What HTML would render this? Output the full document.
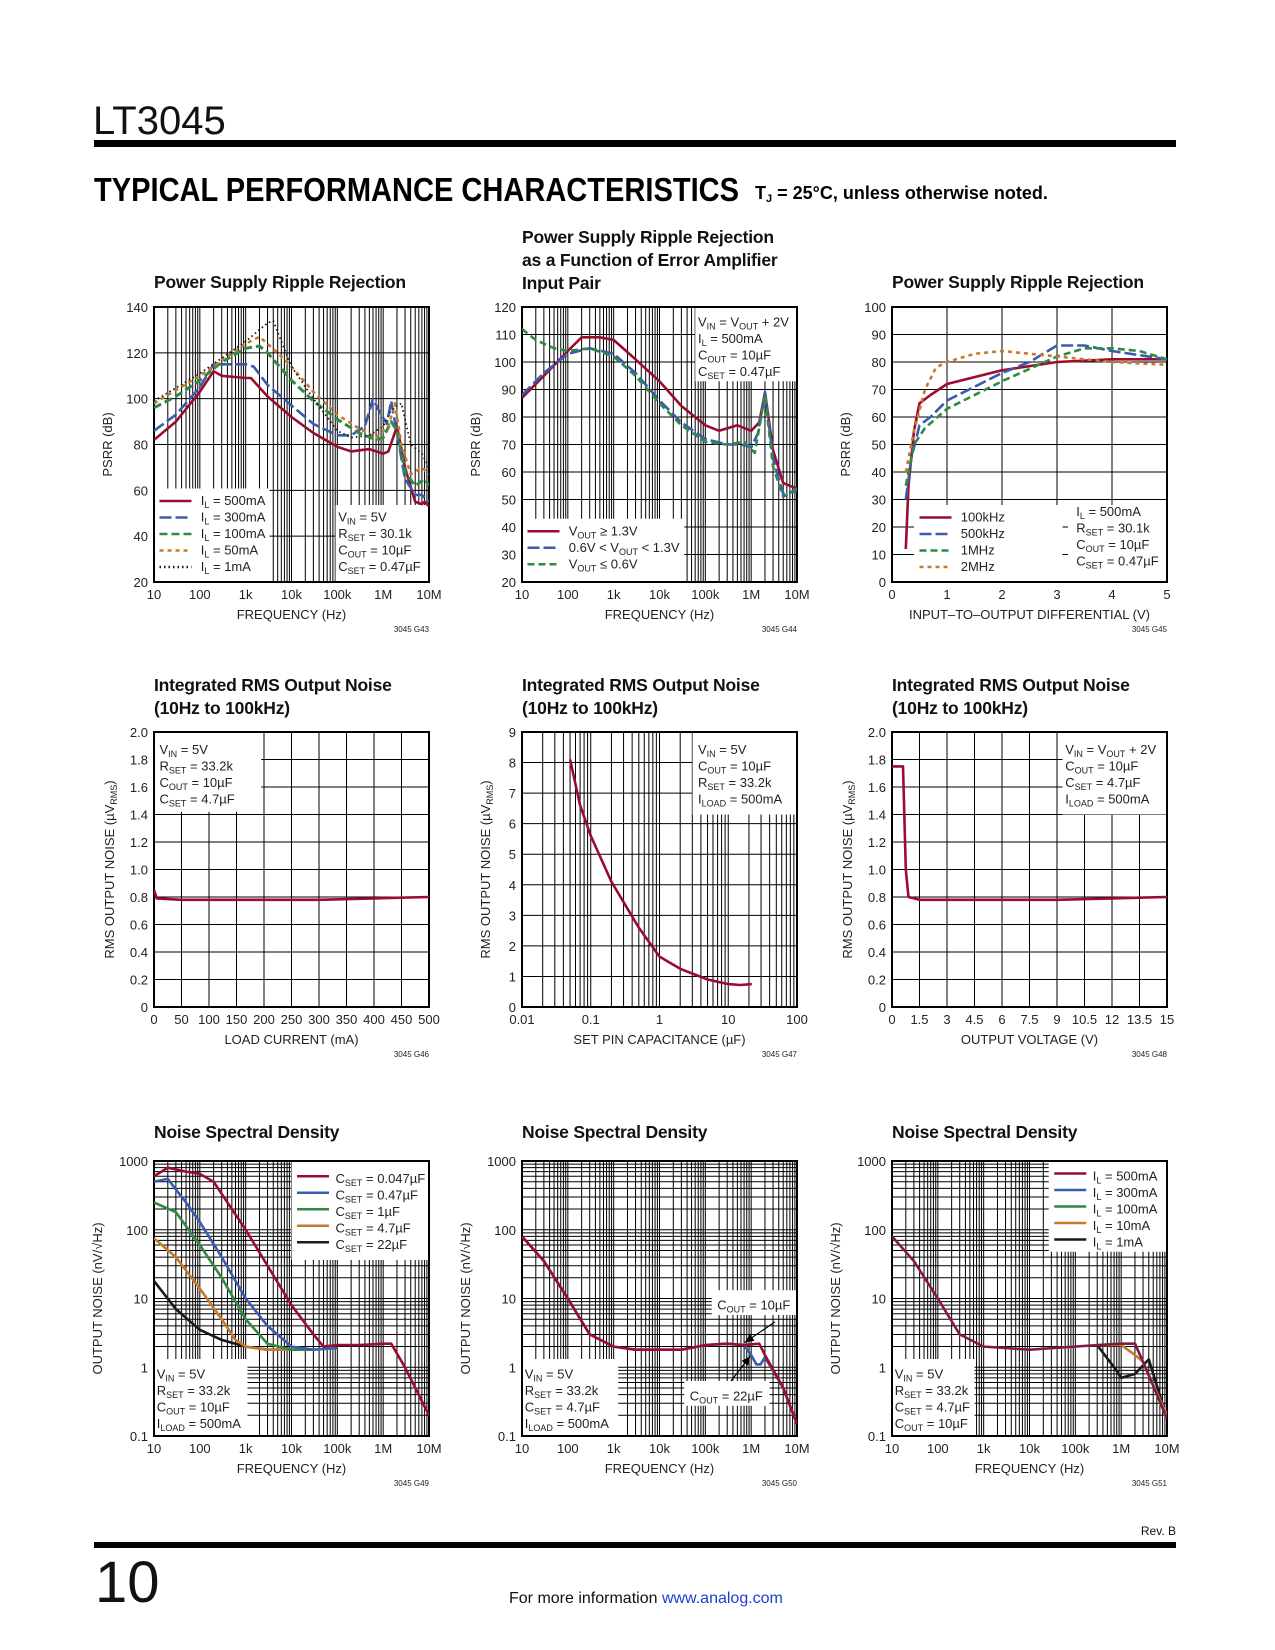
<!DOCTYPE html>
<html><head><meta charset="utf-8"><style>
html,body{margin:0;padding:0;background:#fff;}
svg{display:block;font-family:"Liberation Sans Narrow","Liberation Sans",sans-serif;}
.tk{font-size:13px;fill:#222;}
.small{font-size:8px;fill:#222;}
.ttl{font-size:17.5px;font-weight:bold;fill:#111;letter-spacing:-0.2px;}
.lg{font-size:13px;fill:#222;}
</style></head><body>
<svg id="page" width="1275" height="1650" viewBox="0 0 1275 1650" xmlns="http://www.w3.org/2000/svg">
<text x="93" y="134" font-size="40" fill="#111" style="font-weight:300">LT3045</text>
<rect x="94" y="140" width="1082" height="7" fill="#000"/>
<text x="94" y="201" font-size="33" font-weight="900" fill="#000" font-family="Liberation Sans, sans-serif" textLength="645" lengthAdjust="spacingAndGlyphs" style="font-weight:900">TYPICAL PERFORMANCE CHARACTERISTICS</text>
<text x="755" y="199" font-size="18" font-weight="bold" fill="#000">T<tspan font-size="11" dy="3">J</tspan><tspan dy="-3"> = 25°C, unless otherwise noted.</tspan></text>
<rect x="94" y="1542" width="1082" height="6" fill="#000"/>
<text x="95" y="1602" font-size="58" fill="#111" style="font-weight:300">10</text>
<text x="1176" y="1535" font-size="12" text-anchor="end" fill="#111">Rev. B</text>
<text x="509" y="1603" font-size="16" fill="#111">For more information <tspan fill="#1a3fd0">www.analog.com</tspan></text>
<g id="charts"></g>
</svg>
<script>
// ---------- data ----------
const c1Freq500=[10,30,100,200,300,1e3,1.3e3,3e3,1e4,3e4,1e5,2e5,5e5,1e6,1.3e6,2e6,3e6,5e6,7e6,8e6,1e7];
const c1Psrr500=[82,90,103,112,110,109,109,101,92,85,79,77,78,76,77,88,70,55,54,55,53];
const c1Freq300=[10,30,100,200,500,1e3,1.5e3,3e3,1e4,3e4,1e5,2e5,4e5,6e5,8e5,1.2e6,1.5e6,2e6,3e6,5e6,7e6,1e7];
const c1Psrr300=[86,93,105,115,115,115,114,106,97,89,84,84,88,100,95,89,99,85,65,58,58,55];
const c1Freq100=[10,30,100,300,1e3,2e3,3e3,1e4,3e4,1e5,3e5,7e5,1e6,1.5e6,2e6,3e6,5e6,8e6,1e7];
const c1Psrr100=[96,101,108,116,122,123,120,108,99,91,85,82,83,90,86,68,62,65,62];
const c1Freq50=[10,100,1e3,2e3,5e3,1e4,3e4,1e5,3e5,7e5,1.3e6,1.8e6,2.5e6,4e6,7e6,1e7];
const c1Psrr50=[98,110,124,127,120,114,103,93,87,83,88,98,80,67,70,67];
const c1Freq1=[10,100,1e3,3e3,4e3,6e3,1e4,3e4,1e5,2e5,5e5,1e6,1.5e6,2.5e6,4e6,7e6,1e7];
const c1Psrr1=[99,111,125,133,134,125,114,100,86,83,84,88,95,98,80,76,70];

const c2FreqA=[10,30,100,200,500,1e3,3e3,1e4,3e4,1e5,2e5,5e5,1e6,1.5e6,2e6,3e6,5e6,7e6,1e7];
const c2PsrrA=[87,95,104,109,109,108,101,93,84,77,75,77,75,78,89,68,56,55,54];
const c2FreqB=[10,30,100,300,1e3,3e3,1e4,3e4,1e5,3e5,6e5,1e6,1.4e6,2e6,3e6,5e6,1e7];
const c2PsrrB=[88,96,103,105,103,96,86,78,72,70,70,69,74,89,65,52,53];
const c2FreqC=[10,20,50,100,300,1e3,3e3,1e4,3e4,1e5,3e5,7e5,1.2e6,2e6,3e6,5e6,1e7];
const c2PsrrC=[112,108,105,104,105,102,95,85,77,71,70,71,67,88,62,51,54];

const c3Vd100k=[0.25,0.3,0.4,0.5,0.7,1,2,3,4,5];
const c3Psrr100k=[12,35,55,65,68,72,77,80,81,81];
const c3Vd500k=[0.25,0.35,0.5,0.7,1,2,2.5,3,3.5,4,5];
const c3Psrr500k=[30,45,57,60,66,76,80,86,86,84,81];
const c3Vd1M=[0.25,0.4,0.6,1,2,3,3.5,4,4.5,5];
const c3Psrr1M=[35,50,56,63,73,82,85,85,84,81];
const c3Vd2M=[0.25,0.4,0.6,0.8,1,1.5,2,3,4,5];
const c3Psrr2M=[40,55,70,78,80,83,84,82,80,79];

const c4Load=[0,5,50,300,400,500];
const c4Noise=[0.85,0.79,0.78,0.78,0.79,0.80];
const c5Cset=[0.05,0.07,0.1,0.2,0.5,1,2,5,10,15,22];
const c5Noise=[8.1,6.6,5.6,4.1,2.6,1.65,1.25,0.9,0.75,0.72,0.75];
const c6Vout=[0,0.6,0.75,0.9,1.5,9,12,15];
const c6Noise=[1.75,1.75,1.0,0.8,0.78,0.78,0.79,0.80];

const c7FreqA=[10,20,50,100,200,500,1e3,3e3,1e4,3e4,5e4,1e5,3e5,1e6,1.5e6,3e6,1e7];
const c7NoiseA=[600,800,700,650,500,200,100,30,8,3,2,2.1,2.1,2.2,2.2,1,0.2];
const c7FreqB=[10,20,50,100,300,1e3,3e3,1e4,3e4,1e5];
const c7NoiseB=[500,550,250,130,40,10,4,2,1.8,1.9];
const c7FreqC=[10,30,100,300,1e3,3e3,1e4,3e4];
const c7NoiseC=[250,180,60,20,5,2.2,1.8,1.8];
const c7FreqD=[10,30,100,300,600,1e3,3e3,1e4];
const c7NoiseD=[75,40,14,5,2.5,2,1.8,1.8];
const c7FreqE=[10,30,100,300,1e3,3e3,1e4];
const c7NoiseE=[18,7,3.5,2.5,2,1.8,1.8];

const c8FreqA=[10,30,100,300,1e3,3e3,3e4,1e5,3e5,7e5,1.5e6,2e6,5e6,1e7];
const c8NoiseA=[80,35,10,3,2,1.8,1.8,2.1,2.2,2.1,2.2,1.5,0.5,0.15];
const c8FreqB=[10,30,100,300,1e3,3e3,3e4,1e5,3e5,7e5,1e6,1.3e6,1.6e6,2e6,5e6,1e7];
const c8NoiseB=[80,35,10,3,2,1.8,1.8,2.1,2.2,2.1,1.5,1.1,1.1,1.4,0.5,0.15];

const c9FreqBase=[10,30,100,300,1e3,1e4,1e5,3e5];
const c9NoiseBase=[80,35,10,3,2,1.8,2,2.1];
const c9FreqHi=[3e5,1e6,2e6,3e6,1e7];
const c9NoiseHi=[2.1,2.2,2.2,1.2,0.18];
const c9Freq10m=[3e5,1e6,2e6,3e6,1e7];
const c9Noise10m=[2.1,2.1,1.5,1.2,0.2];
const c9Freq1m=[3e5,7e5,1e6,2e6,4e6,1e7];
const c9Noise1m=[2.1,1.0,0.7,0.8,1.3,0.18];

const decTicks=['10','100','1k','10k','100k','1M','10M'];
const c1YTicks=[20,40,60,80,100,120,140];
const c2YTicks=[20,30,40,50,60,70,80,90,100,110,120];
const c3XTicks=[0,1,2,3,4,5];
const c3YTicks=[0,10,20,30,40,50,60,70,80,90,100];
const c4XTicks=[0,50,100,150,200,250,300,350,400,450,500];
const c2x02YTicks=['0','0.2','0.4','0.6','0.8','1.0','1.2','1.4','1.6','1.8','2.0'];
const c5XTicks=['0.01','0.1','1','10','100'];
const c5YTicks=[0,1,2,3,4,5,6,7,8,9];
const c6XTicks=['0','1.5','3','4.5','6','7.5','9','10.5','12','13.5','15'];
const nsdYTicks=['0.1','1','10','100','1000'];

// ---------- helpers ----------
const NS='http://www.w3.org/2000/svg';
const root=document.getElementById('charts');
const RED='#9a0d30',BLUE='#3b5bb0',GREEN='#2f8a45',ORANGE='#c87a2c',BLACK='#1a1a1a';
function mk(tag,attrs,parent){const e=document.createElementNS(NS,tag);for(const k in attrs)e.setAttribute(k,attrs[k]);(parent||root).appendChild(e);return e;}
function txt(x,y,html,cls,parent,anchor){const t=mk('text',{x:x,y:y,class:cls||'tk','text-anchor':anchor||'start'},parent);t.innerHTML=html;return t;}
function sub(a,b,rest){return a+'<tspan font-size="9" dy="3">'+b+'</tspan><tspan dy="-3">'+rest+'</tspan>';}
function chart(o){
  const g=mk('g',{});
  
  
  const L=o.left,T=o.top,W=275,H=275;
  const lx=o.xlog?[Math.log10(o.xmin),Math.log10(o.xmax)]:[o.xmin,o.xmax];
  const ly=o.ylog?[Math.log10(o.ymin),Math.log10(o.ymax)]:[o.ymin,o.ymax];
  const X=v=>L+((o.xlog?Math.log10(v):v)-lx[0])/(lx[1]-lx[0])*W;
  const Y=v=>T+H-((o.ylog?Math.log10(v):v)-ly[0])/(ly[1]-ly[0])*H;
  const grid=mk('g',{stroke:'#000','stroke-width':1},g);
  
  
  const vx=[],hy=[];
  if(o.xlog){for(let d=lx[0];d<lx[1];d++)for(let k=1;k<10;k++)vx.push(k*Math.pow(10,d));}
  else{for(let v=o.xmin;v<=o.xmax+1e-9;v+=o.xstep)vx.push(v);}
  if(o.ylog){for(let d=ly[0];d<ly[1];d++)for(let k=1;k<10;k++)hy.push(k*Math.pow(10,d));}
  else{for(let v=o.ymin;v<=o.ymax+1e-9;v+=o.ystep)hy.push(v);}
  vx.forEach(v=>mk('line',{x1:X(v),x2:X(v),y1:T,y2:T+H},grid));
  hy.forEach(v=>mk('line',{x1:L,x2:L+W,y1:Y(v),y2:Y(v)},grid));
  (o.boxes||[]).forEach(b=>{const r=mk('rect',{x:L+b[0]*W,y:T+b[1]*H,width:(b[2]-b[0])*W,height:(b[3]-b[1])*H,fill:'#fff'},g);
    
    });
  const fr=mk('rect',{x:L,y:T,width:W,height:H,fill:'none',stroke:'#000','stroke-width':2},g);
  
  
  const cid='clip'+o.name;
  const cp=mk('clipPath',{id:cid},g);mk('rect',{x:L,y:T,width:W,height:H},cp);
  const lines=mk('g',{'clip-path':'url(#'+cid+')'},g);
  (o.series||[]).forEach(s=>{
    let d='';s.x.forEach((v,i)=>{d+=(i?'L':'M')+X(v).toFixed(1)+','+Y(s.y[i]).toFixed(1);});
    const p=mk('path',{d:d,fill:'none',stroke:s.c,'stroke-width':s.w||2.6,'stroke-dasharray':s.dash||'none','stroke-linejoin':'round'},lines);
    
    
  });
  const ax=mk('g',{},g);
  
  
  o.xt.forEach((t,i)=>{const x=L+i*W/(o.xt.length-1);txt(x,T+H+17,t,'tk',ax,'middle');});
  o.yt.forEach((t,i)=>{const y=T+H-i*H/(o.yt.length-1);txt(L-6,y+5,t,'tk',ax,'end');});
  const xtt=txt(L+W/2,T+H+37,o.xtitle,'tk',ax,'middle');
  
  const yt=txt(0,0,o.ytitle,'tk',ax,'middle');
  yt.setAttribute('transform','translate('+(L-o.ytoff)+','+(T+H/2)+') rotate(-90)');
  
  const fc=txt(L+W,T+H+50,o.code,'small',ax,'end');
  
  o.titles.forEach((t,i)=>{const e=txt(L,o.tb+i*23,t,'ttl',g);});
  (o.texts||[]).forEach(t=>txt(L+t[0]*W,T+t[1]*H,t[2],'lg',g,t[3]||'start'));
  (o.legend||[]).forEach(l=>{const y=T+l[1]*H;const e=mk('line',{x1:L+l[0]*W,x2:L+l[0]*W+32,y1:y-4,y2:y-4,stroke:l[2],'stroke-width':2.6,'stroke-dasharray':l[3]||'none'},g);
    
    });
  return {X:X,Y:Y,g:g};
}
const C=[154,522,892],R=[307,732,1161];
// Chart 1
chart({name:'psrr-vs-load',left:C[0],top:R[0],xlog:true,xmin:10,xmax:1e7,ylog:false,ymin:20,ymax:140,ystep:20,
 xt:decTicks,yt:c1YTicks.map(String),xtitle:'FREQUENCY (Hz)',ytitle:'PSRR (dB)',ytoff:42,code:'3045 G43',tb:288,
 titles:['Power Supply Ripple Rejection'],boxes:[[0,0.66,0.42,1],[0.66,0.72,1,1]],
 series:[{n:'series-500ma',x:c1Freq500,y:c1Psrr500,c:RED},{n:'series-300ma',x:c1Freq300,y:c1Psrr300,c:BLUE,dash:'12 4'},
  {n:'series-100ma',x:c1Freq100,y:c1Psrr100,c:GREEN,dash:'8 4',w:3},{n:'series-50ma',x:c1Freq50,y:c1Psrr50,c:ORANGE,dash:'4 4'},
  {n:'series-1ma',x:c1Freq1,y:c1Psrr1,c:BLACK,dash:'1.5 3',w:1.8}],
 legend:[[0.02,0.72,RED],[0.02,0.78,BLUE,'12 4'],[0.02,0.84,GREEN,'8 4'],[0.02,0.90,ORANGE,'4 4'],[0.02,0.96,BLACK,'1.5 3']],
 texts:[[0.17,0.72,sub('I','L',' = 500mA')],[0.17,0.78,sub('I','L',' = 300mA')],[0.17,0.84,sub('I','L',' = 100mA')],[0.17,0.90,sub('I','L',' = 50mA')],[0.17,0.96,sub('I','L',' = 1mA')],
  [0.67,0.78,sub('V','IN',' = 5V')],[0.67,0.84,sub('R','SET',' = 30.1k')],[0.67,0.90,sub('C','OUT',' = 10µF')],[0.67,0.96,sub('C','SET',' = 0.47µF')]]});
// Chart 2
chart({name:'psrr-error-amp',left:C[1],top:R[0],xlog:true,xmin:10,xmax:1e7,ylog:false,ymin:20,ymax:120,ystep:10,
 xt:decTicks,yt:c2YTicks.map(String),xtitle:'FREQUENCY (Hz)',ytitle:'PSRR (dB)',ytoff:42,code:'3045 G44',tb:243,
 titles:['Power Supply Ripple Rejection','as a Function of Error Amplifier','Input Pair'],boxes:[[0.63,0,1,0.27],[0,0.77,0.59,1]],
 series:[{n:'series-vout-high',x:c2FreqA,y:c2PsrrA,c:RED},{n:'series-vout-mid',x:c2FreqB,y:c2PsrrB,c:BLUE,dash:'12 4'},{n:'series-vout-low',x:c2FreqC,y:c2PsrrC,c:GREEN,dash:'7 4'}],
 legend:[[0.02,0.83,RED],[0.02,0.89,BLUE,'12 4'],[0.02,0.95,GREEN,'7 4']],
 texts:[[0.17,0.83,sub('V','OUT',' ≥ 1.3V')],[0.17,0.89,'0.6V &lt; '+sub('V','OUT',' &lt; 1.3V')],[0.17,0.95,sub('V','OUT',' ≤ 0.6V')],
  [0.64,0.07,sub('V','IN',' = ')+sub('V','OUT',' + 2V')],[0.64,0.13,sub('I','L',' = 500mA')],[0.64,0.19,sub('C','OUT',' = 10µF')],[0.64,0.25,sub('C','SET',' = 0.47µF')]]});
// Chart 3
chart({name:'psrr-vs-differential',left:C[2],top:R[0],xlog:false,xmin:0,xmax:5,xstep:1,ylog:false,ymin:0,ymax:100,ystep:10,
 xt:c3XTicks.map(String),yt:c3YTicks.map(String),xtitle:'INPUT–TO–OUTPUT DIFFERENTIAL (V)',ytitle:'PSRR (dB)',ytoff:42,code:'3045 G45',tb:288,
 titles:['Power Supply Ripple Rejection'],boxes:[[0.08,0.72,0.62,1],[0.64,0.72,1,1]],
 series:[{n:'series-100khz',x:c3Vd100k,y:c3Psrr100k,c:RED},{n:'series-500khz',x:c3Vd500k,y:c3Psrr500k,c:BLUE,dash:'12 4'},{n:'series-1mhz',x:c3Vd1M,y:c3Psrr1M,c:GREEN,dash:'7 4'},{n:'series-2mhz',x:c3Vd2M,y:c3Psrr2M,c:ORANGE,dash:'4 4'}],
 legend:[[0.1,0.78,RED],[0.1,0.84,BLUE,'12 4'],[0.1,0.90,GREEN,'7 4'],[0.1,0.96,ORANGE,'4 4']],
 texts:[[0.25,0.78,'100kHz'],[0.25,0.84,'500kHz'],[0.25,0.90,'1MHz'],[0.25,0.96,'2MHz'],
  [0.67,0.76,sub('I','L',' = 500mA')],[0.67,0.82,sub('R','SET',' = 30.1k')],[0.67,0.88,sub('C','OUT',' = 10µF')],[0.67,0.94,sub('C','SET',' = 0.47µF')]]});
// Chart 4
chart({name:'rms-noise-vs-load',left:C[0],top:R[1],xlog:false,xmin:0,xmax:500,xstep:50,ylog:false,ymin:0,ymax:2,ystep:0.2,
 xt:c4XTicks.map(String),yt:c2x02YTicks,xtitle:'LOAD CURRENT (mA)',ytitle:'RMS OUTPUT NOISE (µV'+'<tspan font-size="9" dy="3">RMS</tspan><tspan dy="-3">)</tspan>',ytoff:40,code:'3045 G46',tb:691,
 titles:['Integrated RMS Output Noise','(10Hz to 100kHz)'],boxes:[[0,0,0.39,0.29]],
 series:[{n:'series-noise',x:c4Load,y:c4Noise,c:RED}],
 texts:[[0.02,0.08,sub('V','IN',' = 5V')],[0.02,0.14,sub('R','SET',' = 33.2k')],[0.02,0.20,sub('C','OUT',' = 10µF')],[0.02,0.26,sub('C','SET',' = 4.7µF')]]});
// Chart 5
chart({name:'rms-noise-vs-cset',left:C[1],top:R[1],xlog:true,xmin:0.01,xmax:100,ylog:false,ymin:0,ymax:9,ystep:1,
 xt:c5XTicks,yt:c5YTicks.map(String),xtitle:'SET PIN CAPACITANCE (µF)',ytitle:'RMS OUTPUT NOISE (µV'+'<tspan font-size="9" dy="3">RMS</tspan><tspan dy="-3">)</tspan>',ytoff:32,code:'3045 G47',tb:691,
 titles:['Integrated RMS Output Noise','(10Hz to 100kHz)'],boxes:[[0.62,0,1,0.3]],
 series:[{n:'series-noise',x:c5Cset,y:c5Noise,c:RED}],
 texts:[[0.64,0.08,sub('V','IN',' = 5V')],[0.64,0.14,sub('C','OUT',' = 10µF')],[0.64,0.20,sub('R','SET',' = 33.2k')],[0.64,0.26,sub('I','LOAD',' = 500mA')]]});
// Chart 6
chart({name:'rms-noise-vs-vout',left:C[2],top:R[1],xlog:false,xmin:0,xmax:15,xstep:1.5,ylog:false,ymin:0,ymax:2,ystep:0.2,
 xt:c6XTicks,yt:c2x02YTicks,xtitle:'OUTPUT VOLTAGE (V)',ytitle:'RMS OUTPUT NOISE (µV'+'<tspan font-size="9" dy="3">RMS</tspan><tspan dy="-3">)</tspan>',ytoff:40,code:'3045 G48',tb:691,
 titles:['Integrated RMS Output Noise','(10Hz to 100kHz)'],boxes:[[0.62,0,1,0.30]],
 series:[{n:'series-noise',x:c6Vout,y:c6Noise,c:RED}],
 texts:[[0.63,0.08,sub('V','IN',' = ')+sub('V','OUT',' + 2V')],[0.63,0.14,sub('C','OUT',' = 10µF')],[0.63,0.20,sub('C','SET',' = 4.7µF')],[0.63,0.26,sub('I','LOAD',' = 500mA')]]});
// Chart 7
chart({name:'nsd-vs-cset',left:C[0],top:R[2],xlog:true,xmin:10,xmax:1e7,ylog:true,ymin:0.1,ymax:1000,
 xt:decTicks,yt:nsdYTicks,xtitle:'FREQUENCY (Hz)',ytitle:'OUTPUT NOISE (nV/√Hz)',ytoff:52,code:'3045 G49',tb:1138,
 titles:['Noise Spectral Density'],boxes:[[0.5,0,1,0.36],[0,0.72,0.34,1]],
 series:[{n:'series-cset-22u',x:c7FreqE,y:c7NoiseE,c:BLACK},{n:'series-cset-4u7',x:c7FreqD,y:c7NoiseD,c:ORANGE},{n:'series-cset-1u',x:c7FreqC,y:c7NoiseC,c:GREEN},{n:'series-cset-0u47',x:c7FreqB,y:c7NoiseB,c:BLUE},{n:'series-cset-0u047',x:c7FreqA,y:c7NoiseA,c:RED}],
 legend:[[0.52,0.07,RED],[0.52,0.13,BLUE],[0.52,0.19,GREEN],[0.52,0.25,ORANGE],[0.52,0.31,BLACK]],
 texts:[[0.66,0.08,sub('C','SET',' = 0.047µF')],[0.66,0.14,sub('C','SET',' = 0.47µF')],[0.66,0.20,sub('C','SET',' = 1µF')],[0.66,0.26,sub('C','SET',' = 4.7µF')],[0.66,0.32,sub('C','SET',' = 22µF')],
  [0.01,0.79,sub('V','IN',' = 5V')],[0.01,0.85,sub('R','SET',' = 33.2k')],[0.01,0.91,sub('C','OUT',' = 10µF')],[0.01,0.97,sub('I','LOAD',' = 500mA')]]});
// Chart 8
const c8=chart({name:'nsd-vs-cout',left:C[1],top:R[2],xlog:true,xmin:10,xmax:1e7,ylog:true,ymin:0.1,ymax:1000,
 xt:decTicks,yt:nsdYTicks,xtitle:'FREQUENCY (Hz)',ytitle:'OUTPUT NOISE (nV/√Hz)',ytoff:52,code:'3045 G50',tb:1138,
 titles:['Noise Spectral Density'],boxes:[[0.69,0.47,1,0.56],[0,0.72,0.35,1],[0.59,0.8,0.9,0.89]],
 series:[{n:'series-cout-22u',x:c8FreqB,y:c8NoiseB,c:BLUE},{n:'series-cout-10u',x:c8FreqA,y:c8NoiseA,c:RED}],
 texts:[[0.71,0.54,sub('C','OUT',' = 10µF')],[0.61,0.87,sub('C','OUT',' = 22µF')],
  [0.01,0.79,sub('V','IN',' = 5V')],[0.01,0.85,sub('R','SET',' = 33.2k')],[0.01,0.91,sub('C','SET',' = 4.7µF')],[0.01,0.97,sub('I','LOAD',' = 500mA')]]});
[[0.92,0.585,0.81,0.66],[0.76,0.80,0.83,0.71]].forEach(a=>{const W=275,H=275,L=C[1],T=R[2];
  const ar=mk('line',{x1:L+a[0]*W,y1:T+a[1]*H,x2:L+a[2]*W,y2:T+a[3]*H,stroke:'#000','stroke-width':1.2},c8.g);
  
  
  const dx=a[2]-a[0],dy=a[3]-a[1],len=Math.hypot(dx,dy),ux=dx/len,uy=dy/len,tx=L+a[2]*W,ty=T+a[3]*H;
  mk('polygon',{points:tx+','+ty+' '+(tx-ux*9-uy*4)+','+(ty-uy*9+ux*4)+' '+(tx-ux*9+uy*4)+','+(ty-uy*9-ux*4),fill:'#000'},c8.g);});
// Chart 9
chart({name:'nsd-vs-load',left:C[2],top:R[2],xlog:true,xmin:10,xmax:1e7,ylog:true,ymin:0.1,ymax:1000,
 xt:decTicks,yt:nsdYTicks,xtitle:'FREQUENCY (Hz)',ytitle:'OUTPUT NOISE (nV/√Hz)',ytoff:52,code:'3045 G51',tb:1138,
 titles:['Noise Spectral Density'],boxes:[[0.57,0,1,0.33],[0,0.72,0.3,1]],
 series:[{n:'series-1ma',x:c9Freq1m,y:c9Noise1m,c:BLACK},{n:'series-10ma',x:c9Freq10m,y:c9Noise10m,c:ORANGE},{n:'series-100ma',x:c9FreqHi,y:c9NoiseHi,c:GREEN},{n:'series-300ma',x:c9FreqHi,y:c9NoiseHi,c:BLUE},{n:'series-base',x:c9FreqBase,y:c9NoiseBase,c:BLUE},{n:'series-500ma-base',x:c9FreqBase,y:c9NoiseBase,c:RED,w:2},{n:'series-500ma',x:c9FreqHi,y:c9NoiseHi,c:RED,w:2}],
 legend:[[0.59,0.06,RED],[0.59,0.12,BLUE],[0.59,0.18,GREEN],[0.59,0.24,ORANGE],[0.59,0.30,BLACK]],
 texts:[[0.73,0.07,sub('I','L',' = 500mA')],[0.73,0.13,sub('I','L',' = 300mA')],[0.73,0.19,sub('I','L',' = 100mA')],[0.73,0.25,sub('I','L',' = 10mA')],[0.73,0.31,sub('I','L',' = 1mA')],
  [0.01,0.79,sub('V','IN',' = 5V')],[0.01,0.85,sub('R','SET',' = 33.2k')],[0.01,0.91,sub('C','SET',' = 4.7µF')],[0.01,0.97,sub('C','OUT',' = 10µF')]]});
</script>
</body></html>
